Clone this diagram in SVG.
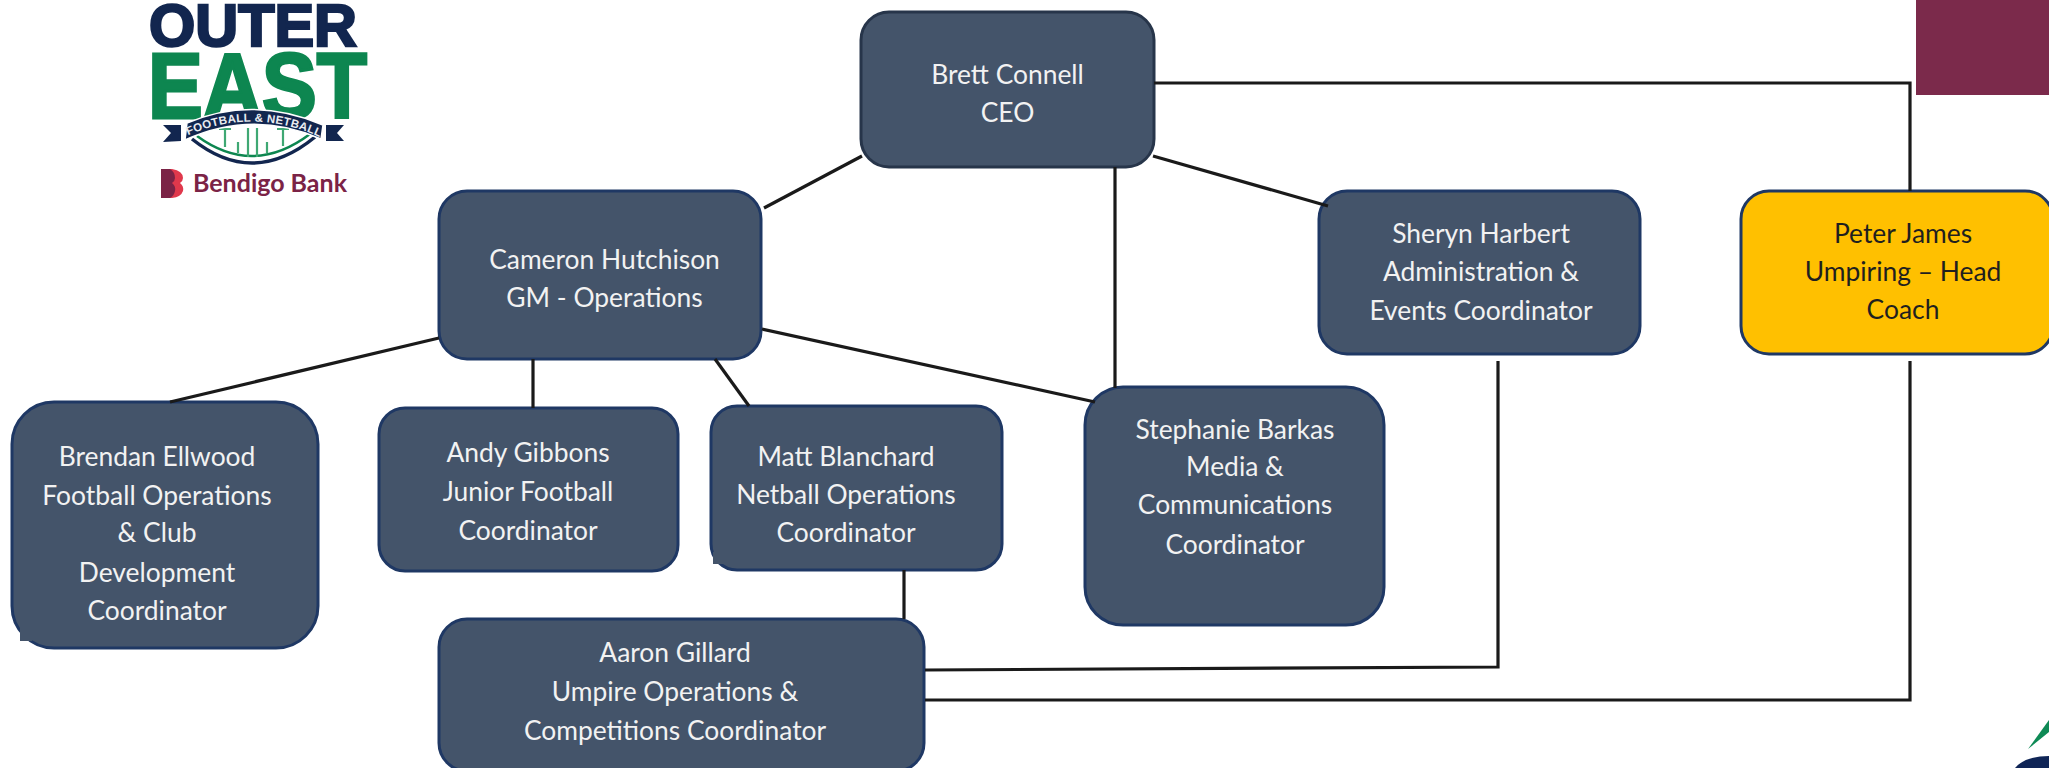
<svg xmlns="http://www.w3.org/2000/svg" width="2049" height="768" viewBox="0 0 2049 768">
<style>
.n{fill:#44546a;stroke:#1f3864;stroke-width:3}
.t{font-family:Lato,"Open Sans",sans-serif;font-size:26.4px;fill:#f2f2f2;text-anchor:middle;transform:translateY(1px)}
.p{fill:#44546a}
.c{fill:none;stroke:#1a1a1a;stroke-width:3.2}
.lg{font-family:"Liberation Sans",Arial,sans-serif;font-weight:700}
</style>
<defs><path id="arc" d="M180 139Q253 103 328 141"/></defs>
<rect width="2049" height="768" fill="#fff"/>
<rect x="1916" y="0" width="133" height="95" fill="#7b2a4b"/>
<path d="M2028 749L2049 720V732Z" fill="#0e8a55"/>
<path d="M2015 768Q2025 756 2049 756V768Z" fill="#0f2556"/>
<g id="logo">
<text class="lg" x="149" y="46" font-size="60" fill="#12264f" stroke="#12264f" stroke-width="2.5" textLength="208" lengthAdjust="spacingAndGlyphs">OUTER</text>
<text class="lg" x="148" y="118" font-size="92" fill="#0d8650" stroke="#0d8650" stroke-width="3" textLength="219" lengthAdjust="spacingAndGlyphs">EAST</text>
<path d="M163 125H181V141L163 142L171 133Z M344 125H326V141L344 141L337 133Z" fill="#12264f"/>
<path d="M192 139Q253 188 315 137" fill="none" stroke="#12264f" stroke-width="3.5"/>
<path d="M197 136Q253 177 310 134" fill="none" stroke="#0d8650" stroke-width="2.5"/>
<path d="M225 130V147M238 142V153M248 128V157M257 128V157M267 142V153M283 130V146M219 129H231M277 129H289" fill="none" stroke="#3fa873" stroke-width="2.2"/>
<path d="M187 123Q253 95 323 125L321 139Q253 109 185 140Z" fill="#12264f" stroke="#fff" stroke-width="1.5"/>
<text class="lg" font-size="11.5" fill="#e8ebf0" letter-spacing=".3" text-anchor="middle"><textPath href="#arc" startOffset="50%">FOOTBALL &amp; NETBALL</textPath></text>
<path d="M161 169H172Q183 171 183 178Q183 181 180 183Q184 186 183 191Q181 197 172 198H161Z" fill="#e0384c"/>
<path d="M161 169H170Q175 172 175 178Q175 181 172 183Q176 186 175 191Q174 196 170 198H161Z" fill="#7b2346"/>
<text x="193" y="192" font-family="Lato,'Open Sans',sans-serif" font-weight="700" font-size="25" fill="#7b2346" textLength="154" lengthAdjust="spacingAndGlyphs">Bendigo Bank</text>
</g>
<g id="ceo"><rect class="n" x="861" y="12" width="293" height="155" rx="28" style="stroke:#27354a"/>
<text class="t" x="1007.500" y="83">Brett Connell</text><text class="t" x="1007.500" y="121">CEO</text></g>
<g id="cameron"><rect class="n" x="439" y="191" width="322" height="168" rx="28"/>
<text class="t" x="604.500" y="268">Cameron Hutchison</text><text class="t" x="604.500" y="306">GM - Operations</text></g>
<g id="sheryn"><rect class="n" x="1319" y="191" width="321" height="163" rx="28"/>
<text class="t" x="1481" y="242">Sheryn Harbert</text><text class="t" x="1481" y="280">Administration &amp;</text><text class="t" x="1481" y="319">Events Coordinator</text></g>
<g id="peter"><rect x="1741" y="191" width="312" height="163" rx="28" fill="#ffc000" stroke="#1f3864" stroke-width="3"/>
<text class="t" x="1903" y="242" style="fill:#1f1f1f">Peter James</text><text class="t" x="1903" y="280" style="fill:#1f1f1f">Umpiring – Head</text><text class="t" x="1903" y="318" style="fill:#1f1f1f">Coach</text></g>
<g id="brendan"><rect class="n" x="12" y="402" width="306" height="246" rx="42"/><rect class="p" x="20" y="626" width="12" height="15"/>
<text class="t" x="157" y="465">Brendan Ellwood</text><text class="t" x="157" y="504">Football Operations</text><text class="t" x="157" y="541">&amp; Club</text><text class="t" x="157" y="581">Development</text><text class="t" x="157" y="619">Coordinator</text></g>
<g id="andy"><rect class="n" x="379" y="408" width="299" height="163" rx="26"/>
<text class="t" x="528" y="461">Andy Gibbons</text><text class="t" x="528" y="500">Junior Football</text><text class="t" x="528" y="539">Coordinator</text></g>
<g id="matt"><rect class="n" x="711" y="406" width="291" height="164" rx="26"/><rect class="p" x="713" y="552" width="11" height="12"/>
<text class="t" x="846" y="465">Matt Blanchard</text><text class="t" x="846" y="503">Netball Operations</text><text class="t" x="846" y="541">Coordinator</text></g>
<g id="stephanie"><rect class="n" x="1085" y="387" width="299" height="238" rx="38"/>
<text class="t" x="1235" y="438">Stephanie Barkas</text><text class="t" x="1235" y="475">Media &amp;</text><text class="t" x="1235" y="513">Communications</text><text class="t" x="1235" y="553">Coordinator</text></g>
<g id="aaron"><rect class="n" x="439" y="619" width="485" height="152" rx="28"/>
<text class="t" x="675" y="661">Aaron Gillard</text><text class="t" x="675" y="700">Umpire Operations &amp;</text><text class="t" x="675" y="739">Competitions Coordinator</text></g>
<g id="connectors">
<path class="c" d="M862 156L764 208"/>
<path class="c" d="M1153 156L1328 206"/>
<path class="c" d="M1115 167V388"/>
<path class="c" d="M1154 83H1910V191"/>
<path class="c" d="M439 338L170 402"/>
<path class="c" d="M533 359V408"/>
<path class="c" d="M715 359L749 406"/>
<path class="c" d="M762 329L1095 402"/>
<path class="c" d="M904 570V619"/>
<path class="c" d="M1498 361V667L925 670"/>
<path class="c" d="M1910 361V700H925"/>
</g>
</svg>
